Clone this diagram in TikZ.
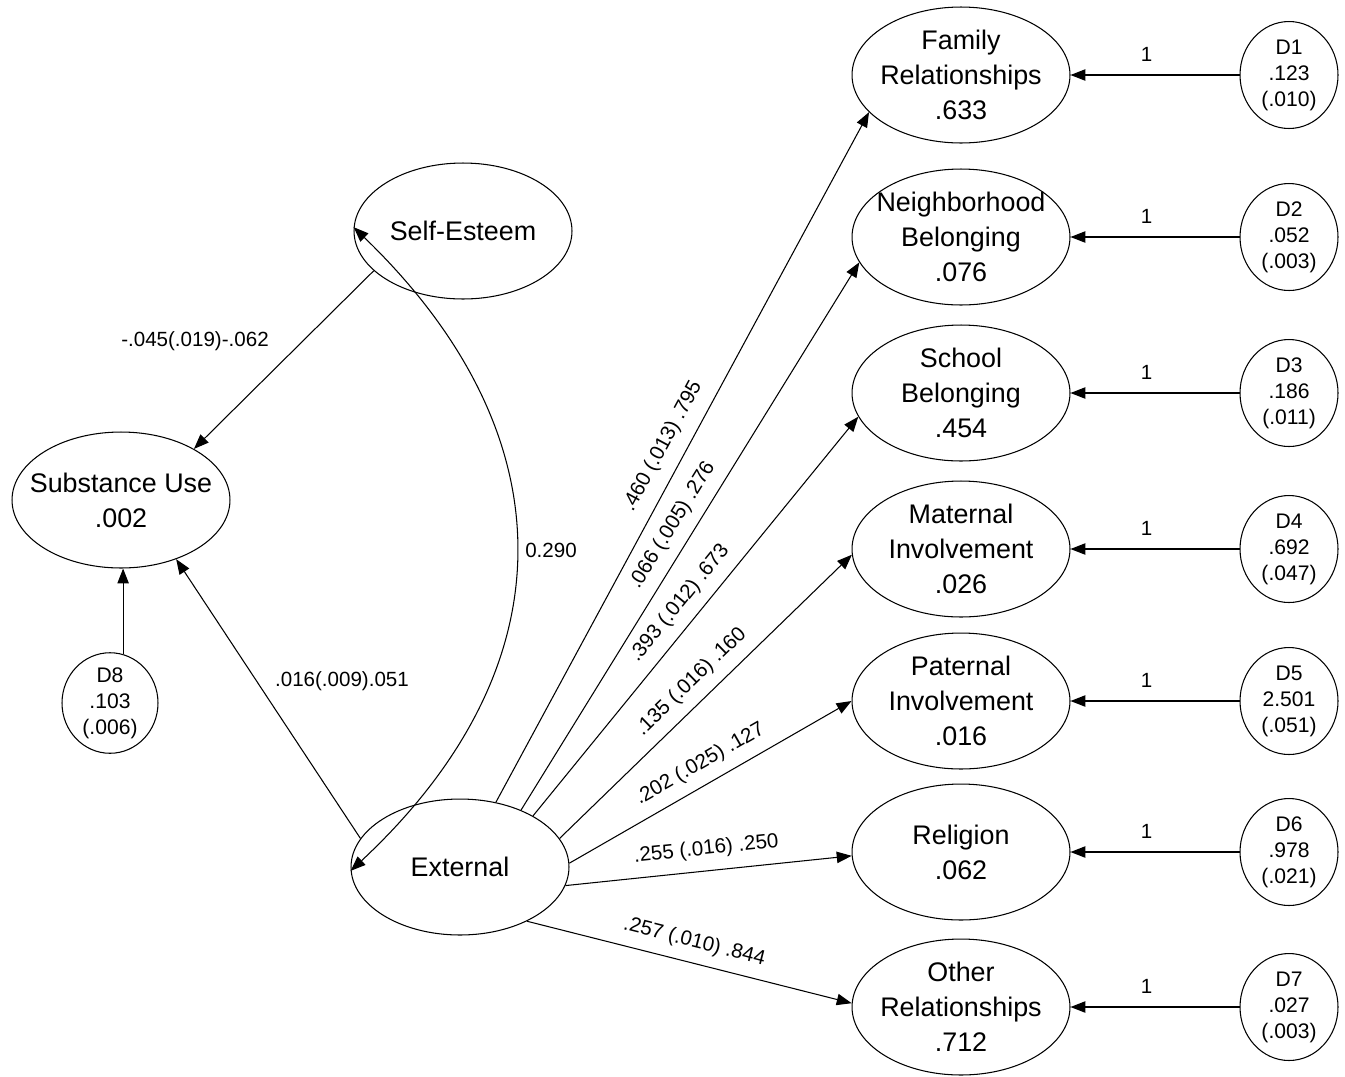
\documentclass[tikz,border=0pt]{standalone}
\usepackage{fontspec}
\setmainfont{Liberation Sans}
\usetikzlibrary{shapes.geometric,arrows.meta}

\tikzset{
  latent/.style={ellipse, draw, line width=0.6pt, minimum width=4.36cm,
    minimum height=2.72cm, inner xsep=-18pt, inner ysep=-6pt, align=center,
    font=\fontsize{15.3}{19.9}\selectfont},
  disturb/.style={ellipse, draw, line width=0.6pt, minimum width=1.96cm,
    minimum height=2.14cm, inner sep=0pt, align=center,
    font=\fontsize{12}{14.8}\selectfont},
  effect/.style={draw, line width=0.6pt, -{Triangle[length=8.5pt,width=6.5pt]}},
  covar/.style={draw, line width=0.6pt,
    {Triangle[length=8.5pt,width=6.5pt]}-{Triangle[length=8.5pt,width=6.5pt]}},
  elab/.style={font=\fontsize{11.7}{14}\selectfont, inner sep=0pt},
}

\begin{document}
\begin{tikzpicture}[x=0.02cm, y=0.02cm]
\useasboundingbox (0,0) rectangle (1345,-1076);

% latent variables
\node[latent] (se)  at (463,-231) {Self-Esteem};
\node[latent] (su)  at (121,-500) {Substance Use\\.002};
\node[latent] (ext) at (460,-867) {External};

% indicators
\node[latent] (fam) at (961,-75)   {Family\\Relationships\\.633};
\node[latent] (nb)  at (961,-237)  {Neighborhood\\Belonging\\.076};
\node[latent] (sb)  at (961,-393)  {School\\Belonging\\.454};
\node[latent] (mi)  at (961,-549)  {Maternal\\Involvement\\.026};
\node[latent] (pi)  at (961,-701)  {Paternal\\Involvement\\.016};
\node[latent] (rel) at (961,-852)  {Religion\\.062};
\node[latent] (oth) at (961,-1007) {Other\\Relationships\\.712};

% disturbances
\node[disturb] (d1) at (1289,-75)   {D1\\.123\\(.010)};
\node[disturb] (d2) at (1289,-237)  {D2\\.052\\(.003)};
\node[disturb] (d3) at (1289,-393)  {D3\\.186\\(.011)};
\node[disturb] (d4) at (1289,-549)  {D4\\.692\\(.047)};
\node[disturb] (d5) at (1289,-701)  {D5\\2.501\\(.051)};
\node[disturb] (d6) at (1289,-852)  {D6\\.978\\(.021)};
\node[disturb] (d7) at (1289,-1007) {D7\\.027\\(.003)};
\node[disturb, minimum width=1.92cm, minimum height=2.0cm] (d8) at (110,-703) {D8\\.103\\(.006)};

% disturbance paths
\foreach \d/\t in {d1/fam, d2/nb, d3/sb, d4/mi, d5/pi, d6/rel, d7/oth}
  \path[effect] (\d) -- node[elab, pos=.55, above=7.5pt] {1} (\t);
\path[effect] (d8.75) -- (su.south -| d8.75);

% structural paths
\path[effect] (se.204) -- (su.35.5);
\path[effect] (ext.164) -- (su.-47);
\node[elab] (lse) at (195,-341) {-.045(.019)-.062};
\node[elab] (lex) at (342,-681) {.016(.009).051};

% covariance
\path[covar] (se.178) to[out=-44, in=43, looseness=1.19] (ext.182);
\node[elab] (lcov) at (551,-550) {0.290};

% loadings
\path[effect] (ext.61.3) -- node[elab, sloped, pos=.5, above=7pt] {.460 (.013) .795} (fam.202);
\path[effect] (ext.43) -- node[elab, sloped, pos=.5, above=6pt] {.066 (.005) .276} (nb.194);
\path[effect] (ext.35.5) -- node[elab, sloped, pos=.5, above=6pt] {.393 (.012) .673} (sb.193);
\path[effect] (ext.16.9) -- node[elab, sloped, pos=.5, above=6pt] {.135 (.016) .160} (mi.183);
\path[effect] (ext.2.6) -- node[elab, sloped, pos=.5, above=6pt] {.202 (.025) .127} (pi.180);
\path[effect] (ext.-10.6) -- node[elab, sloped, pos=.5, above=6.5pt] {.255 (.016) .250} (rel.182);
\path[effect] (ext.-39.9) -- node[elab, sloped, pos=.5, above=6pt] {.257 (.010) .844} (oth.178);
\end{tikzpicture}
\end{document}
